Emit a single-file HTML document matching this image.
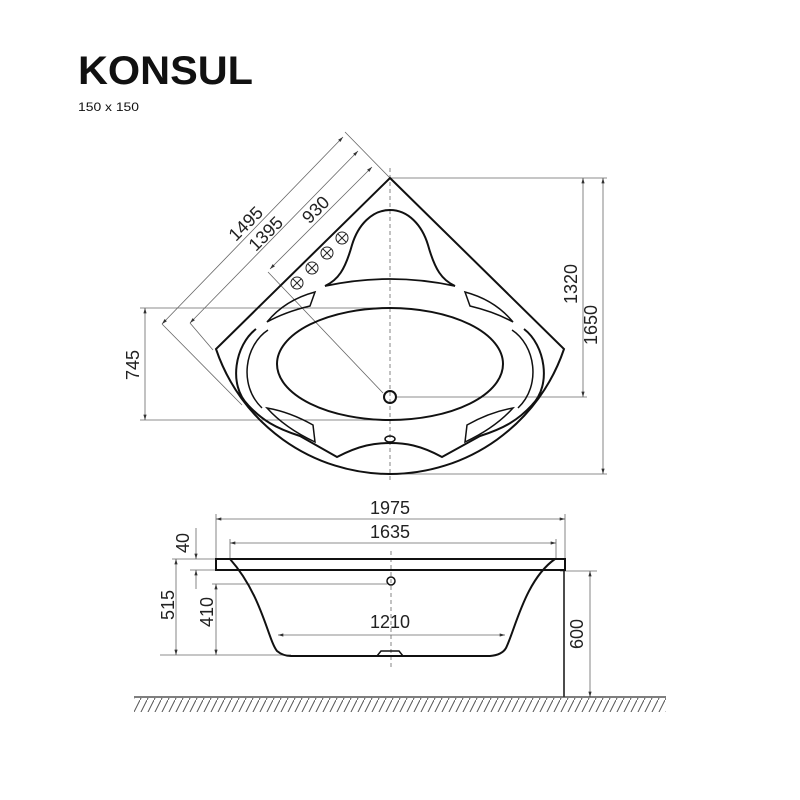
<!DOCTYPE html>
<html><head><meta charset="utf-8"><style>html,body{margin:0;padding:0;background:#fff}svg{display:block}</style></head><body>
<svg width="800" height="800" viewBox="0 0 800 800" xmlns="http://www.w3.org/2000/svg" font-family="Liberation Sans, sans-serif">
<defs>
<marker id="a" viewBox="0 0 10 6" refX="10" refY="3" markerWidth="7" markerHeight="4" orient="auto-start-reverse"><path d="M0,0 L10,3 L0,6z" fill="#333"/></marker>
<pattern id="h" width="7" height="14" patternUnits="userSpaceOnUse"><path d="M0,14 L7,0" stroke="#555" stroke-width="1"/></pattern>
</defs>
<rect width="800" height="800" fill="#fff"/>
<text x="78" y="84" font-size="40" font-weight="bold" textLength="175" lengthAdjust="spacingAndGlyphs" fill="#111">KONSUL</text>
<text x="78" y="111" font-size="12" textLength="61" lengthAdjust="spacingAndGlyphs" fill="#111">150 x 150</text>

<g stroke="#666" stroke-width="0.8" fill="none">
<line x1="345" y1="132" x2="390" y2="178"/>
<line x1="162" y1="324" x2="242" y2="405"/>
<line x1="190" y1="323" x2="213" y2="350"/>
<line x1="268" y1="272" x2="383" y2="393"/>
<line x1="162" y1="324" x2="343" y2="137" marker-start="url(#a)" marker-end="url(#a)"/>
<line x1="190" y1="323" x2="358" y2="151" marker-start="url(#a)" marker-end="url(#a)"/>
<line x1="270" y1="269" x2="372" y2="167" marker-start="url(#a)" marker-end="url(#a)"/>
<line x1="390" y1="178" x2="607" y2="178"/>
<line x1="397" y1="397" x2="587" y2="397"/>
<line x1="390" y1="474" x2="607" y2="474"/>
<line x1="583" y1="178" x2="583" y2="397" marker-start="url(#a)" marker-end="url(#a)"/>
<line x1="603" y1="178" x2="603" y2="474" marker-start="url(#a)" marker-end="url(#a)"/>
<line x1="140" y1="308" x2="400" y2="308"/>
<line x1="140" y1="420" x2="400" y2="420"/>
<line x1="145" y1="308" x2="145" y2="420" marker-start="url(#a)" marker-end="url(#a)"/>
<line x1="390" y1="168" x2="390" y2="482" stroke-dasharray="4,3"/>
</g>
<g font-size="18" fill="#222" text-anchor="middle">
<text transform="translate(250,228) rotate(-45)">1495</text>
<text transform="translate(270,238) rotate(-45)">1395</text>
<text transform="translate(320,214) rotate(-45)">930</text>
<text transform="translate(577,284) rotate(-90)">1320</text>
<text transform="translate(597,325) rotate(-90)">1650</text>
<text transform="translate(139,365) rotate(-90)">745</text>
</g>

<g stroke="#111" stroke-width="2" fill="none">
<path d="M390,178 L564,349 A183.6,183.6 0 0 1 216,349 Z"/>
<path d="M256,329 C235,345 228,385 248,405 C262,420 275,428 300,436 L337,457 C360,445 375,443 390,443 C405,443 420,445 442,457 L480,436 C505,428 518,420 532,405 C552,385 545,345 524,329"/>
<path d="M268,330 C245,345 238,385 262,408" stroke-width="1.5"/>
<path d="M512,330 C535,345 542,385 518,408" stroke-width="1.5"/>
<path d="M325,286 Q390,272 455,286" stroke-width="1.8"/>
<ellipse cx="390" cy="364" rx="113" ry="56"/>
<path d="M325,286 C338,280 345,270 352,245 C358,225 372,210 390,210 C408,210 422,225 428,245 C435,270 442,280 455,286"/>
<path d="M315,292 L310,306 Q285,312 267,322 Q285,300 315,292 Z" stroke-width="1.5"/>
<path d="M465,292 L470,306 Q495,312 513,322 Q495,300 465,292 Z" stroke-width="1.5"/>
<path d="M267,408 Q290,412 313,425 L315,442 Q285,428 267,408 Z" stroke-width="1.5"/>
<path d="M513,408 Q490,412 467,425 L465,442 Q495,428 513,408 Z" stroke-width="1.5"/>
<circle cx="390" cy="397" r="6"/>
<ellipse cx="390" cy="439" rx="5" ry="3" stroke-width="1.5"/>
</g>
<g stroke="#222" stroke-width="1" fill="#fff">
<circle cx="297" cy="283" r="6"/><circle cx="312" cy="268" r="6"/><circle cx="327" cy="253" r="6"/><circle cx="342" cy="238" r="6"/>
<path d="M293,279l8,8m0,-8l-8,8M308,264l8,8m0,-8l-8,8M323,249l8,8m0,-8l-8,8M338,234l8,8m0,-8l-8,8" fill="none"/>
</g>

<g stroke="#666" stroke-width="0.8" fill="none">
<line x1="216" y1="514" x2="216" y2="559"/>
<line x1="565" y1="514" x2="565" y2="559"/>
<line x1="216" y1="519" x2="565" y2="519" marker-start="url(#a)" marker-end="url(#a)"/>
<line x1="230" y1="539" x2="230" y2="559"/>
<line x1="556" y1="539" x2="556" y2="559"/>
<line x1="230" y1="543" x2="556" y2="543" marker-start="url(#a)" marker-end="url(#a)"/>
<line x1="172" y1="559" x2="216" y2="559"/>
<line x1="190" y1="570" x2="216" y2="570"/>
<line x1="196" y1="528" x2="196" y2="559" marker-end="url(#a)"/>
<line x1="196" y1="589" x2="196" y2="570" marker-end="url(#a)"/>
<line x1="176" y1="559" x2="176" y2="655" marker-start="url(#a)" marker-end="url(#a)"/>
<line x1="212" y1="584" x2="387" y2="584"/>
<line x1="216" y1="584" x2="216" y2="655" marker-start="url(#a)" marker-end="url(#a)"/>
<line x1="160" y1="655" x2="291" y2="655"/>
<line x1="278" y1="635" x2="505" y2="635" marker-start="url(#a)" marker-end="url(#a)"/>
<line x1="560" y1="571" x2="597" y2="571"/>
<line x1="590" y1="571" x2="590" y2="697" marker-start="url(#a)" marker-end="url(#a)"/>
<line x1="391" y1="551" x2="391" y2="668" stroke-dasharray="4,3"/>
</g>
<g font-size="18" fill="#222" text-anchor="middle">
<text x="390" y="514">1975</text>
<text x="390" y="538">1635</text>
<text x="390" y="628">1210</text>
<text transform="translate(189,543) rotate(-90)">40</text>
<text transform="translate(174,605) rotate(-90)">515</text>
<text transform="translate(213,612) rotate(-90)">410</text>
<text transform="translate(583,634) rotate(-90)">600</text>
</g>
<g stroke="#111" stroke-width="2" fill="none">
<rect x="216" y="559" width="349" height="11"/>
<path d="M230,559 C262,595 268,640 277,651 Q283,656 291,656 L490,656 Q502,655 506,648 C515,630 525,580 555,559"/>
<circle cx="391" cy="581" r="4" stroke-width="1.5"/>
<path d="M291,656 L377,656 L381,651 L399,651 L403,656 L490,656" stroke-width="1.5"/>
<line x1="564" y1="570" x2="564" y2="697" stroke-width="1.5"/>
</g>
<line x1="134" y1="697" x2="666" y2="697" stroke="#333" stroke-width="1.2"/>
<rect x="134" y="698" width="532" height="14" fill="url(#h)"/>
</svg>
</body></html>
